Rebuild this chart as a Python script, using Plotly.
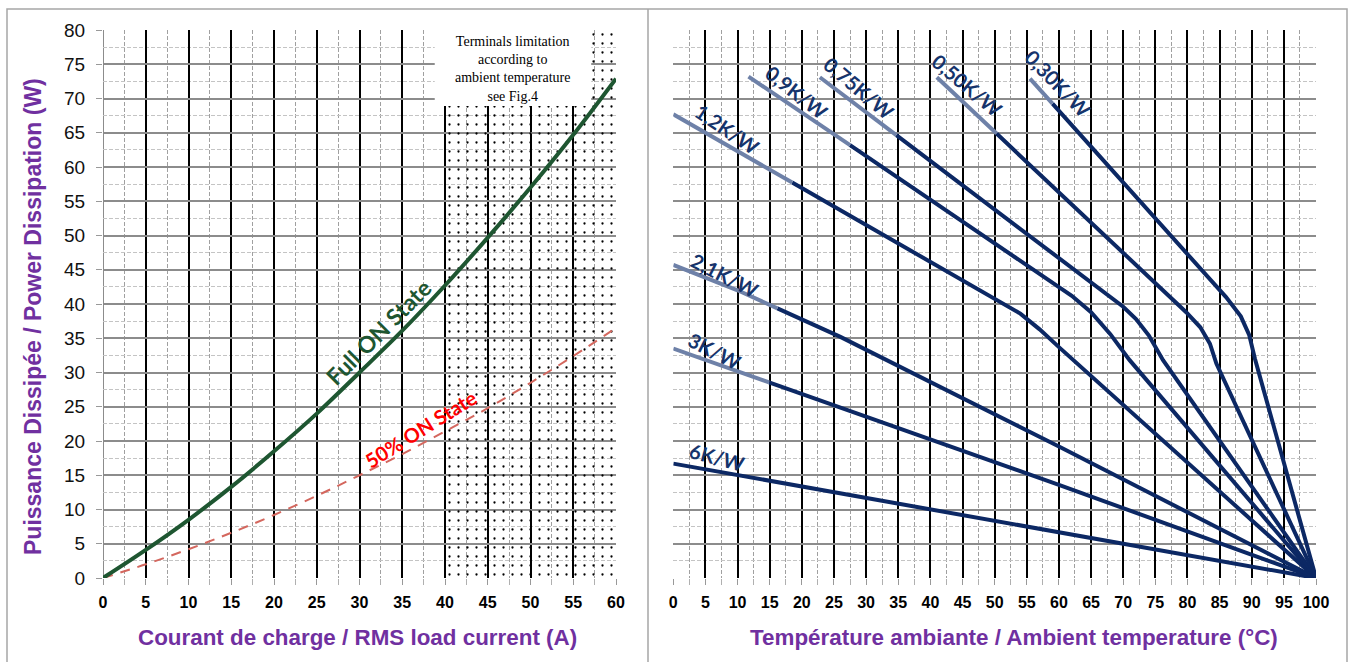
import numpy as np
import plotly.graph_objects as go

# ---------------- data: left chart ----------------
current_a = [0, 5, 10, 15, 20, 25, 30, 35, 40, 45, 50, 55, 60]
full_on_w = [0, 4.1, 8.5, 13.3, 18.5, 24.0, 30.0, 36.1, 42.7, 49.7, 57.0, 64.7, 72.9]
half_on_w = [0, 2.0, 4.2, 6.6, 9.2, 12.0, 15.0, 18.1, 21.4, 24.8, 28.5, 32.4, 36.5]
terminal_zone_a = [40, 60]
power_range_w = [0, 80]

# ---------------- data: right chart (heatsink curves) ----------------
curve_names = ["6K/W", "3K/W", "2,1K/W", "1,2K/W", "0,9K/W", "0,75K/W", "0,50K/W", "0,30K/W"]
t_6k = [0, 60, 100]
p_6k = [16.7, 6.7, 0]
t_3k = [0, 60, 100]
p_3k = [33.5, 13.6, 0]
t_21k = [0, 10, 26, 60, 100]
p_21k = [45.7, 42.0, 35.2, 19.2, 0]
t_12k = [0, 54, 57, 60, 100]
p_12k = [67.7, 38.6, 36.3, 33.7, 0]
t_09k = [11.7, 57, 62, 65, 68, 71, 100]
p_09k = [73.2, 44.5, 41.2, 38.8, 35.6, 31.8, 0]
t_075k = [22.8, 70, 72, 74, 76.2, 100]
p_075k = [73.1, 39.6, 37.8, 35.4, 31.8, 0]
t_050k = [41, 79.8, 82, 83.5, 84.5, 100]
p_050k = [73.1, 38.8, 36.6, 34.2, 31.3, 0]
t_030k = [55.5, 86, 88.3, 89.6, 90.5, 100]
p_030k = [72.9, 41.0, 38.2, 35.5, 32.0, 0]

x_ticks_left = list(range(0, 61, 5))
x_ticks_right = list(range(0, 101, 5))
y_ticks = list(range(0, 81, 5))

# ---------------- styling ----------------
W, H = 1356, 662
NAVY = "#0c2864"
NAVY_LIGHT = "#6e81a8"
LABEL_NAVY = "#16346c"
PURPLE = "#7030a0"
GREEN = "#1e5631"


def px(x):
    return x / W


def py(y):
    return 1 - y / H


curves = [(t_6k, p_6k), (t_3k, p_3k), (t_21k, p_21k), (t_12k, p_12k),
          (t_09k, p_09k), (t_075k, p_075k), (t_050k, p_050k), (t_030k, p_030k)]
# end of the lighter (label-highlight) section of each line, in degC
light_end = [None, 14.9, 16.2, 18.5, 27.5, 34.7, 50.3, 59.0]
# label placement (degC, W, angle)
label_pos = [(6.8, 17.6, 15), (6.5, 33.2, 27), (8.0, 44.3, 27), (8.4, 65.5, 34),
             (19.2, 71.0, 38), (28.9, 71.5, 40), (45.7, 71.9, 40), (59.8, 72.2, 46)]

fig = go.Figure()

# terminals limitation zone (dot pattern)
z0, z1 = terminal_zone_a
fig.add_trace(go.Scatter(
    x=[z0, z1, z1, z0, z0], y=[power_range_w[0], power_range_w[0], power_range_w[1], power_range_w[1], power_range_w[0]],
    fill="toself", mode="lines", line=dict(width=0), fillcolor="rgba(0,0,0,0)",
    fillpattern=dict(shape=".", fgcolor="black", bgcolor="rgba(0,0,0,0)", size=9, solidity=0.05, fillmode="replace"),
    hoverinfo="skip", showlegend=False, xaxis="x", yaxis="y"))

fig.add_trace(go.Scatter(x=current_a, y=half_on_w, mode="lines",
                         line=dict(color="#d4675e", width=2, dash="10px,8px", shape="spline"),
                         showlegend=False, xaxis="x", yaxis="y"))
fig.add_trace(go.Scatter(x=current_a, y=full_on_w, mode="lines",
                         line=dict(color=GREEN, width=4, shape="spline"),
                         showlegend=False, xaxis="x", yaxis="y"))

for (t, p), le in zip(curves, light_end):
    t = np.array(t, float)
    p = np.array(p, float)
    if le is None:
        fig.add_trace(go.Scatter(x=t, y=p, mode="lines", line=dict(color=NAVY, width=4),
                                 showlegend=False, xaxis="x2", yaxis="y2"))
        continue
    pm = float(np.interp(le, t, p))
    mask = t < le
    tl = list(t[mask]) + [le]
    pl = list(p[mask]) + [pm]
    td = [le] + list(t[~mask])
    pd_ = [pm] + list(p[~mask])
    fig.add_trace(go.Scatter(x=td, y=pd_, mode="lines", line=dict(color=NAVY, width=4),
                             showlegend=False, xaxis="x2", yaxis="y2"))
    fig.add_trace(go.Scatter(x=tl, y=pl, mode="lines", line=dict(color=NAVY_LIGHT, width=4),
                             showlegend=False, xaxis="x2", yaxis="y2"))

ann = []
for name, (lx, ly, ang) in zip(curve_names, label_pos):
    ann.append(dict(x=lx, y=ly, xref="x2", yref="y2", text=name, showarrow=False,
                    xanchor="center", yanchor="middle",
                    textangle=ang, font=dict(family="Lato, Open Sans", size=20, color=LABEL_NAVY, weight="bold")))

ann.append(dict(x=32.2, y=35.9, xref="x", yref="y", text="Full ON State", showarrow=False, textangle=-45,
                xanchor="center", yanchor="middle",
                font=dict(family="Lato, Open Sans", size=23, color=GREEN, weight="bold")))
ann.append(dict(x=37.1, y=21.8, xref="x", yref="y", text="50% ON State", showarrow=False, textangle=-32,
                xanchor="center", yanchor="middle",
                font=dict(family="Lato, Open Sans", size=20, color="#ff0000", weight="bold")))
ann.append(dict(x=47.9, y=80, xref="x", yref="y", yanchor="top", xanchor="center", yshift=-2,
                text="Terminals limitation<br>according to<br>ambient temperature<br>see Fig.4",
                showarrow=False, align="center",
                font=dict(family="Liberation Serif, Times New Roman", size=14, color="black")))

title_font = dict(family="Liberation Sans, Arial", size=22.4, color=PURPLE, weight="bold")
ann.append(dict(x=px(357), y=py(637), xref="paper", yref="paper", xanchor="center", yanchor="middle",
                text="Courant de charge / RMS load current (A)", showarrow=False, font=title_font))
ann.append(dict(x=px(1014), y=py(637), xref="paper", yref="paper", xanchor="center", yanchor="middle",
                text="Température ambiante / Ambient temperature (°C)", showarrow=False, font=title_font))
ann.append(dict(x=px(33), y=py(317), xref="paper", yref="paper", xanchor="center", yanchor="middle",
                text="Puissance Dissipée / Power Dissipation (W)", showarrow=False, textangle=-90,
                font=dict(family="Liberation Sans, Arial", size=23, color=PURPLE, weight="bold")))

shapes = [
    # white box behind the note
    dict(type="rect", xref="x", yref="y", x0=38.8, x1=57.1, y0=68.9, y1=80.6, fillcolor="white",
         line=dict(width=0), layer="above"),
    # left edge of the current chart is a grey line in the reference
    dict(type="line", xref="x", yref="y", x0=0, x1=0, y0=0, y1=80, line=dict(color="#8c8c8c", width=2),
         layer="below"),
    # outer frame
    dict(type="rect", xref="paper", yref="paper", x0=px(7), x1=px(1347), y0=-0.05, y1=py(9),
         line=dict(color="#a6a6a6", width=1.5)),
    dict(type="line", xref="paper", yref="paper", x0=px(648), x1=px(648), y0=-0.05, y1=py(9),
         line=dict(color="#a6a6a6", width=1.5)),
]


def xaxis_cfg(domain, rng, ticks):
    return dict(domain=domain, range=rng, tickmode="array", tickvals=ticks, showgrid=True,
                gridcolor="#000000", gridwidth=2, zeroline=False, showline=False,
                ticks="outside", ticklen=6, tickcolor="#999999", tickwidth=1, ticklabelstandoff=4,
                tickfont=dict(family="Liberation Sans, Arial", size=16, color="black", weight="bold"),
                minor=dict(dtick=2.5, tick0=0, showgrid=True, gridcolor="#a0a0a0", griddash="4px,2px", gridwidth=1,
                           ticks="outside", ticklen=6, tickcolor="#b0b0b0"),
                fixedrange=True, automargin=False)


def yaxis_cfg(domain, anchor, show_labels):
    return dict(domain=domain, range=power_range_w, anchor=anchor, tickmode="array", tickvals=y_ticks,
                showgrid=True, gridcolor="#8c8c8c", gridwidth=2, zeroline=False, showline=False,
                ticks="outside" if show_labels else "", ticklen=6, tickcolor="#999999",
                showticklabels=show_labels, ticklabelstandoff=7,
                tickfont=dict(family="Liberation Sans, Arial", size=19, color="#111111"),
                minor=dict(dtick=2.5, tick0=0, showgrid=True, gridcolor="#c4c4c4", griddash="4px,2px", gridwidth=1),
                fixedrange=True, automargin=False)


ydom = [py(578), py(30)]
fig.update_layout(
    width=W, height=H, margin=dict(l=0, r=0, t=0, b=0, pad=0), autosize=False,
    paper_bgcolor="white", plot_bgcolor="white", showlegend=False,
    xaxis=dict(anchor="y", **xaxis_cfg([px(103), px(616)], [0, 60], x_ticks_left)),
    yaxis=yaxis_cfg(ydom, "x", True),
    xaxis2=dict(anchor="y2", **xaxis_cfg([px(673.3), px(1316)], [0, 100], x_ticks_right)),
    yaxis2=yaxis_cfg(ydom, "x2", False),
    annotations=ann, shapes=shapes,
)

fig.write_html("out.html", config={"displayModeBar": False},
               post_script="document.body.style.margin='0px';document.body.style.padding='0px';"
                           "document.body.style.overflow='hidden';")
